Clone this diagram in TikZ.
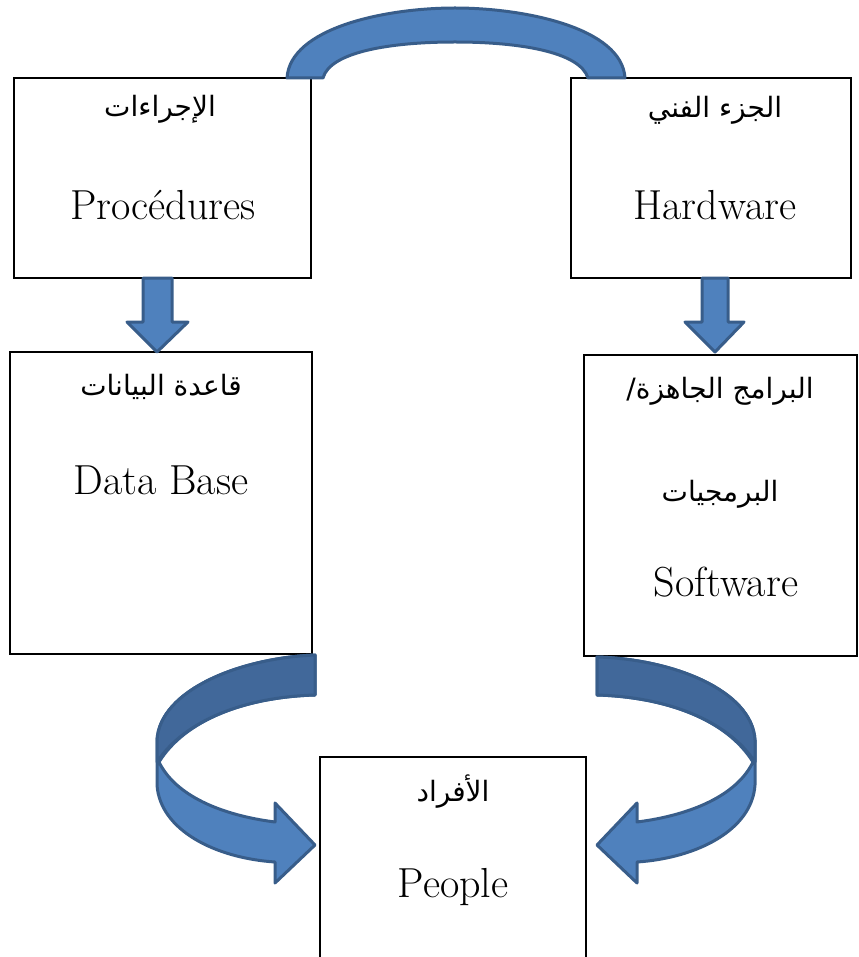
\documentclass[tikz,border=0pt]{standalone}
\usepackage{fontspec}
\usetikzlibrary{fit}
\newfontfamily\arabicfont[Script=Arabic]{DejaVu Sans}
\TeXXeTstate=1
\definecolor{arrowblue}{HTML}{4F81BD}
\definecolor{arrowdark}{HTML}{41689A}
\definecolor{arrowedge}{HTML}{385D8A}
\tikzset{
  box/.style={draw,line width=1pt,inner sep=0pt},
  entext/.style={font=\fontsize{21}{25}\selectfont,anchor=base},
  artext/.style={font=\arabicfont\fontsize{14}{17}\selectfont,anchor=base},
  blockarrow/.style={fill=arrowblue,draw=arrowedge,line width=1.5pt,line join=round},
  backarrow/.style={fill=arrowdark,draw=arrowedge,line width=1.5pt,line join=round}
}
\begin{document}
\begin{tikzpicture}[x=0.5pt,y=-0.5pt]
\useasboundingbox (0,0) rectangle (858,957);
\clip (0,0) rectangle (858,957);

% boxes
\node[box,fit={(14,78) (311,278)}] (proc) {};
\node[box,fit={(571,78) (851,278)}] (hard) {};
\node[box,fit={(10,352) (312,654)}] (db) {};
\node[box,fit={(584,355) (857,656)}] (soft) {};
\node[box,fit={(320,757) (586,975)}] (people) {};

% texts
\node[artext] (procAr) at (160,117) {\arabicfont\beginR الإجراءات\endR};
\node[entext] (procEn) at (163,220) {Procédures};
\node[artext] (hardAr) at (715,118) {\arabicfont\beginR الجزء الفني\endR};
\node[entext] (hardEn) at (715,220) {Hardware};
\node[artext] (dbAr) at (161,395) {\arabicfont\beginR قاعدة البيانات\endR};
\node[entext] (dbEn) at (161,494) {Data Base};
\node[artext] (softAr1) at (720,398) {\arabicfont\beginR البرامج الجاهزة/\endR};
\node[artext] (softAr2) at (720,501) {\arabicfont\beginR البرمجيات\endR};
\node[entext] (softEn) at (726,596) {Software};
\node[artext] (peopleAr) at (453,801) {\arabicfont\beginR الأفراد\endR};
\node[entext] (peopleEn) at (453,897) {People};

% top arch
\draw[blockarrow] (287,78) .. controls (290,28) and (385,8) .. (455,8)
  .. controls (525,8) and (622,28) .. (625,78) -- (588,78)
  .. controls (580,52) and (520,42) .. (455,42)
  .. controls (390,42) and (330,52) .. (323,78) -- cycle;

% down arrows
\draw[blockarrow] (143,278) -- (172,278) -- (172,322) -- (188,322) -- (157,352)
  -- (127,322) -- (143,322) -- cycle;
\draw[blockarrow] (702,278) -- (728,278) -- (728,322) -- (744,322) -- (715,352)
  -- (685,322) -- (702,322) -- cycle;

% curved arrow left
\draw[blockarrow] (315,655) .. controls (240,658) and (160,690) .. (157,740)
  -- (157,785) .. controls (160,830) and (215,858) .. (275,862)
  -- (275,883) -- (315,845) -- (275,803) -- (275,822)
  .. controls (220,815) and (175,795) .. (159,762)
  .. controls (185,720) and (245,697) .. (315,695) -- cycle;
\draw[backarrow] (315,655) .. controls (240,658) and (160,690) .. (157,740)
  -- (157,762) .. controls (185,720) and (245,697) .. (315,695) -- cycle;

% curved arrow right
\draw[blockarrow] (597,657) .. controls (672,659) and (752,690) .. (755,740)
  -- (755,785) .. controls (752,830) and (697,858) .. (637,862)
  -- (637,883) -- (597,845) -- (637,803) -- (637,822)
  .. controls (692,815) and (737,795) .. (753,762)
  .. controls (727,720) and (667,697) .. (597,695) -- cycle;
\draw[backarrow] (597,657) .. controls (672,659) and (752,690) .. (755,740)
  -- (755,762) .. controls (727,720) and (667,697) .. (597,695) -- cycle;
\end{tikzpicture}
\end{document}
